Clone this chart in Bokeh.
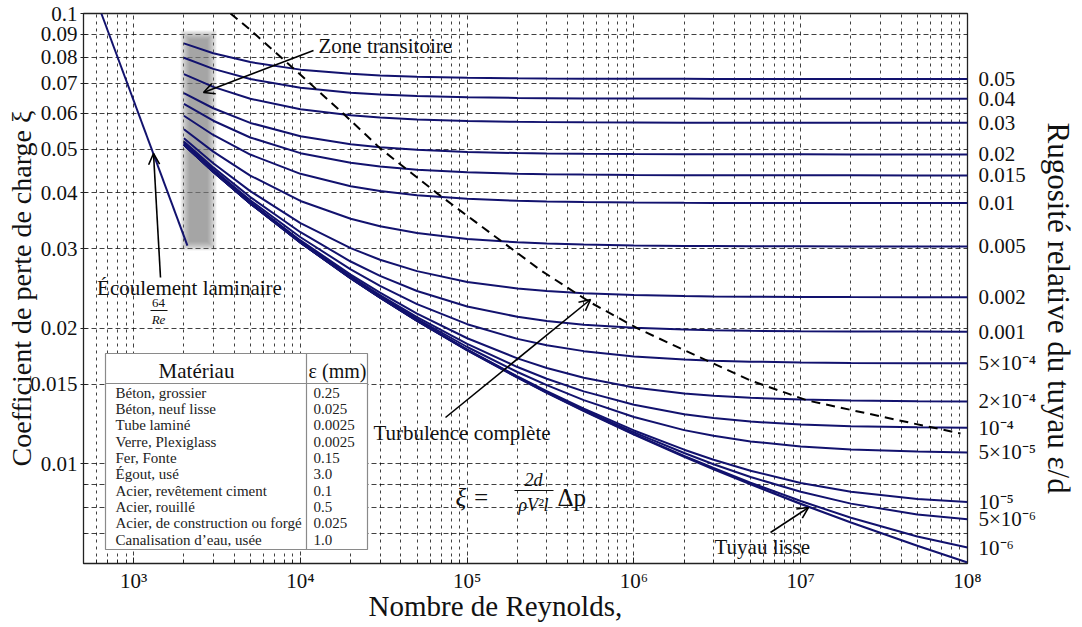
from math import log10, pi
from bokeh.plotting import figure
from bokeh.models import (Range1d, LogAxis, FixedTicker, Label, Arrow, OpenHead,
                          ColumnDataSource, Title)
from bokeh.core.properties import value
from bokeh.embed import file_html
from bokeh.resources import INLINE

# ---------------------------------------------------------------- data
reynolds = [2e3, 3e3, 5e3, 1e4, 2e4, 3e4, 5e4, 1e5, 2e5, 3e5, 5e5,
            1e6, 2e6, 3e6, 5e6, 1e7, 2e7, 5e7, 1e8]

xi_r_0_05 = [0.08584, 0.08161, 0.07799, 0.07504, 0.07344, 0.07286, 0.07238, 0.07200, 0.07179, 0.07172, 0.07166, 0.07161, 0.07158, 0.07157, 0.07156, 0.07156, 0.07155, 0.07155, 0.07155]
xi_r_0_04 = [0.07972, 0.07532, 0.07152, 0.06840, 0.06669, 0.06608, 0.06556, 0.06515, 0.06493, 0.06485, 0.06478, 0.06473, 0.06470, 0.06469, 0.06469, 0.06468, 0.06468, 0.06467, 0.06467]
xi_r_0_03 = [0.07334, 0.06870, 0.06464, 0.06127, 0.05940, 0.05873, 0.05816, 0.05770, 0.05746, 0.05737, 0.05730, 0.05724, 0.05721, 0.05720, 0.05719, 0.05718, 0.05718, 0.05718, 0.05718]
xi_r_0_02 = [0.06658, 0.06159, 0.05714, 0.05336, 0.05123, 0.05045, 0.04979, 0.04926, 0.04897, 0.04887, 0.04878, 0.04872, 0.04868, 0.04867, 0.04866, 0.04865, 0.04864, 0.04864, 0.04864]
xi_r_0_015 = [0.06302, 0.05778, 0.05304, 0.04895, 0.04659, 0.04573, 0.04499, 0.04439, 0.04407, 0.04395, 0.04386, 0.04378, 0.04374, 0.04372, 0.04371, 0.04370, 0.04370, 0.04369, 0.04369]
xi_r_0_01 = [0.05928, 0.05372, 0.04860, 0.04404, 0.04134, 0.04034, 0.03946, 0.03875, 0.03836, 0.03822, 0.03811, 0.03801, 0.03796, 0.03794, 0.03793, 0.03792, 0.03791, 0.03791, 0.03791]
xi_r_0_005 = [0.05533, 0.04934, 0.04364, 0.03833, 0.03499, 0.03369, 0.03253, 0.03156, 0.03102, 0.03082, 0.03066, 0.03052, 0.03045, 0.03043, 0.03040, 0.03039, 0.03038, 0.03037, 0.03037]
xi_r_0_002 = [0.05283, 0.04650, 0.04030, 0.03422, 0.03011, 0.02838, 0.02677, 0.02533, 0.02449, 0.02417, 0.02390, 0.02368, 0.02356, 0.02352, 0.02348, 0.02345, 0.02344, 0.02343, 0.02342]
xi_r_0_001 = [0.05197, 0.04551, 0.03910, 0.03267, 0.02812, 0.02613, 0.02418, 0.02234, 0.02119, 0.02075, 0.02035, 0.02003, 0.01985, 0.01978, 0.01973, 0.01969, 0.01966, 0.01965, 0.01964]
xi_r_5e_4 = [0.05153, 0.04500, 0.03848, 0.03184, 0.02702, 0.02483, 0.02262, 0.02041, 0.01893, 0.01833, 0.01778, 0.01730, 0.01703, 0.01693, 0.01685, 0.01678, 0.01674, 0.01672, 0.01671]
xi_r_2e_4 = [0.05127, 0.04470, 0.03810, 0.03132, 0.02631, 0.02398, 0.02155, 0.01899, 0.01713, 0.01631, 0.01551, 0.01477, 0.01432, 0.01415, 0.01400, 0.01388, 0.01381, 0.01376, 0.01375]
xi_r_1e_4 = [0.05118, 0.04459, 0.03797, 0.03115, 0.02606, 0.02368, 0.02117, 0.01845, 0.01639, 0.01544, 0.01447, 0.01351, 0.01288, 0.01263, 0.01240, 0.01221, 0.01211, 0.01204, 0.01201]
xi_r_5e_5 = [0.05114, 0.04454, 0.03791, 0.03106, 0.02594, 0.02353, 0.02097, 0.01816, 0.01598, 0.01494, 0.01384, 0.01269, 0.01187, 0.01153, 0.01120, 0.01092, 0.01075, 0.01064, 0.01059]
xi_r_1e_5 = [0.05110, 0.04450, 0.03786, 0.03099, 0.02584, 0.02340, 0.02080, 0.01792, 0.01562, 0.01449, 0.01325, 0.01185, 0.01074, 0.01020, 0.00964, 0.00906, 0.00866, 0.00835, 0.00822]
xi_r_5e_6 = [0.05110, 0.04450, 0.03785, 0.03098, 0.02583, 0.02339, 0.02078, 0.01789, 0.01558, 0.01443, 0.01317, 0.01173, 0.01056, 0.00997, 0.00934, 0.00866, 0.00815, 0.00771, 0.00752]
xi_r_1e_6 = [0.05109, 0.04449, 0.03785, 0.03097, 0.02582, 0.02338, 0.02076, 0.01787, 0.01554, 0.01439, 0.01311, 0.01163, 0.01040, 0.00978, 0.00907, 0.00826, 0.00758, 0.00689, 0.00651]
xi_smooth = [0.05109, 0.04449, 0.03785, 0.03097, 0.02581, 0.02337, 0.02076, 0.01786, 0.01553, 0.01437, 0.01309, 0.01161, 0.01036, 0.00972, 0.00900, 0.00814, 0.00740, 0.00657, 0.00603]

rough_curves = [xi_r_0_05, xi_r_0_04, xi_r_0_03, xi_r_0_02, xi_r_0_015, xi_r_0_01,
                xi_r_0_005, xi_r_0_002, xi_r_0_001, xi_r_5e_4, xi_r_2e_4, xi_r_1e_4,
                xi_r_5e_5, xi_r_1e_5, xi_r_5e_6, xi_r_1e_6]
rough_labels = ["0.05", "0.04", "0.03", "0.02", "0.015", "0.01", "0.005", "0.002",
                "0.001", "5×10⁻⁴", "2×10⁻⁴", "10⁻⁴", "5×10⁻⁵", "10⁻⁵", "5×10⁻⁶", "10⁻⁶"]

laminar_re = [640, 2100]
laminar_xi = [0.1, 0.0305]

boundary_re = [3806, 4813, 9085, 18630, 30200, 66340, 109000, 275100, 548800,
               1.05e6, 1.9e6, 5.0e6, 1.098e7, 4.745e7, 9.08e7]
boundary_xi = [0.1, 0.0931, 0.0755, 0.0593, 0.0501, 0.0398, 0.0347, 0.0269, 0.0228,
               0.01997, 0.01803, 0.0153, 0.01381, 0.01228, 0.01167]

materials = ["Béton, grossier", "Béton, neuf lisse", "Tube laminé", "Verre, Plexiglass",
             "Fer, Fonte", "Égout, usé", "Acier, revêtement ciment", "Acier, rouillé",
             "Acier, de construction ou forgé", "Canalisation d’eau, usée"]
roughness_mm = ["0.25", "0.025", "0.0025", "0.0025", "0.15", "3.0", "0.1", "0.5",
                "0.025", "1.0"]

x_major = [1e3, 1e4, 1e5, 1e6, 1e7, 1e8]
x_labels = ["10³", "10⁴", "10⁵", "10⁶", "10⁷", "10⁸"]
y_major = [0.01, 0.015, 0.02, 0.03, 0.04, 0.05, 0.06, 0.07, 0.08, 0.09, 0.1]
y_labels = ["0.01", "0.015", "0.02", "0.03", "0.04", "0.05", "0.06", "0.07", "0.08", "0.09", "0.1"]

# ---------------------------------------------------------------- layout
FONT = "Liberation Serif"
NAVY = "#12126e"
W, H = 1082, 627
BL, BR, BT, BB = 83, 115, 13, 64
X_LO, X_HI = 500, 1e8
Y_LO, Y_HI = 0.006, 0.1


def at(px, py):
    """page pixel -> data coordinates (for annotation placement)"""
    fl, fr = BL, W - BR
    ft, fb = BT, H - BB
    lx = log10(X_LO) + (px - fl) / (fr - fl) * (log10(X_HI) - log10(X_LO))
    ly = log10(Y_HI) - (py - ft) / (fb - ft) * (log10(Y_HI) - log10(Y_LO))
    return 10 ** lx, 10 ** ly


p = figure(width=W, height=H, x_axis_type="log", y_axis_type="log",
           x_range=Range1d(X_LO, X_HI), y_range=Range1d(Y_LO, Y_HI),
           output_backend="svg", toolbar_location=None, title=None,
           min_border_left=BL, min_border_right=BR, min_border_top=BT,
           min_border_bottom=BB)
p.background_fill_color = "white"
p.border_fill_color = "white"
p.outline_line_color = "#222222"
p.outline_line_width = 1.3

x_minor = [m * 10 ** k for k in range(2, 8) for m in range(2, 10) if 500 <= m * 10 ** k < 1e8]
y_minor = [0.006, 0.007, 0.008, 0.009]

xa = p.xaxis[0]
xa.ticker = FixedTicker(ticks=x_major, minor_ticks=x_minor)
xa.major_label_overrides = dict(zip(x_major, x_labels))
ya = p.yaxis[0]
ya.ticker = FixedTicker(ticks=y_major, minor_ticks=y_minor)
ya.major_label_overrides = dict(zip(y_major, y_labels))
for ax in (xa, ya):
    ax.major_label_text_font = FONT
    ax.major_label_text_font_size = "21px"
    ax.major_label_text_color = "#111111"
    ax.axis_line_color = None
    ax.major_tick_line_color = "#222222"
    ax.minor_tick_line_color = "#222222"
xa.major_label_standoff = 5
xa.major_tick_in, xa.major_tick_out = 6, 0
xa.minor_tick_in, xa.minor_tick_out = 4, 0
ya.major_label_standoff = 3
ya.major_tick_in, ya.major_tick_out = 4, 3
ya.minor_tick_in, ya.minor_tick_out = 3, 0
ya.axis_label = "Coefficient de perte de charge ξ"
ya.axis_label_text_font = FONT
ya.axis_label_text_font_size = "28px"
ya.axis_label_text_font_style = "normal"
ya.axis_label_text_color = "#111111"
ya.axis_label_standoff = -10

p.xgrid.ticker = xa.ticker
p.ygrid.ticker = ya.ticker
for g, d1, d2 in ((p.xgrid, "4 4", "3 4"), (p.ygrid, "5 3", "5 3")):
    g.grid_line_color = "black"
    g.grid_line_alpha = 0.75
    g.grid_line_width = 1
    g.grid_line_dash = d1
    g.minor_grid_line_color = "black"
    g.minor_grid_line_alpha = 0.75
    g.minor_grid_line_width = 1
    g.minor_grid_line_dash = d2

ends = [c[-1] for c in rough_curves]
ra = LogAxis(ticker=FixedTicker(ticks=ends, minor_ticks=[]),
             major_label_overrides=dict(zip(ends, rough_labels)),
             axis_line_color=None, major_tick_line_color=None,
             minor_tick_line_color=None, major_label_text_font=FONT,
             major_label_text_font_size="21px", major_label_text_color="#111111",
             major_label_standoff=5)
p.add_layout(ra, "right")

p.add_layout(Title(text="Nombre de Reynolds,", align="left", offset=285, standoff=-12,
                   vertical_align="top", text_font=FONT, text_font_size="29px",
                   text_font_style="normal", text_color="#111111"), "below")
p.add_layout(Title(text="Rugosité relative du tuyau ε/d", align="left", offset=109,
                   standoff=0, vertical_align="middle", text_font=FONT,
                   text_font_size="31px", text_font_style="normal",
                   text_color="#111111"), "right")

# ---------------------------------------------------------------- transition band
for i in range(10):
    e = 9 - i
    l, t = at(189 - e, 39 - e)
    r, b = at(207 + e, 241 + e)
    p.quad(left=l, right=r, top=t, bottom=b, fill_color="#808080", fill_alpha=0.11,
           line_color=None)

# ---------------------------------------------------------------- table
TB = "#8a8a8a"
l, t = at(105, 353)
r, b = at(367, 549)
p.quad(left=l, right=r, top=t, bottom=b, fill_color="white", line_color=TB, line_width=1.2)
_, hy = at(0, 383)
cx, _ = at(306, 0)
p.segment(x0=[l, cx], y0=[hy, t], x1=[r, cx], y1=[hy, b], line_color=TB, line_width=1.2)
n = len(materials)
row_y = [at(0, 392 + i * 16.35)[1] for i in range(n)]
src_m = ColumnDataSource(dict(x=[at(115, 0)[0]] * n, y=row_y, t=materials))
src_v = ColumnDataSource(dict(x=[at(313, 0)[0]] * n, y=row_y, t=roughness_mm))
for s in (src_m, src_v):
    p.text(x="x", y="y", text="t", source=s, text_font=value(FONT),
           text_font_size="15px", text_baseline="middle", text_color="#222222")

# ---------------------------------------------------------------- curves
for c in rough_curves:
    p.line(reynolds, c, line_color=NAVY, line_width=2)
p.line(reynolds, xi_smooth, line_color=NAVY, line_width=2.2)
p.line(laminar_re, laminar_xi, line_color=NAVY, line_width=2)
p.line(boundary_re, boundary_xi, line_color="black", line_width=2, line_dash="9 6")


# ---------------------------------------------------------------- annotations
def label(px, py, text, size="21px", align="left", baseline="middle", angle=0.0,
          style="normal"):
    x, y = at(px, py)
    p.add_layout(Label(x=x, y=y, text=text, text_font=FONT, text_font_size=size,
                       text_align=align, text_baseline=baseline, angle=angle,
                       text_font_style=style, text_color="#111111"))


def arrow(p0, p1):
    x0, y0 = at(*p0)
    x1, y1 = at(*p1)
    p.add_layout(Arrow(end=OpenHead(size=11, line_width=1.6, line_color="black"),
                       x_start=x0, y_start=y0, x_end=x1, y_end=y1,
                       line_width=1.6, line_color="black"))


def bar(p0, p1):
    x0, y0 = at(*p0)
    x1, y1 = at(*p1)
    p.add_layout(Arrow(end=None, start=None, x_start=x0, y_start=y0, x_end=x1,
                       y_end=y1, line_width=1.1, line_color="#111111"))


label(318, 45, "Zone transitoire")
arrow((313, 50), (203, 92))
label(189, 287, "Écoulement laminaire", align="center")
label(158, 302, "64", size="13px", align="center")
bar((150, 310), (167, 310))
label(158, 319, "Re", size="13px", align="center", style="italic")
arrow((160, 277), (153, 153))
label(373, 432, "Turbulence complète")
arrow((445, 417), (590, 299))
label(714, 546, "Tuyau lisse")
arrow((770, 532), (808, 507))

label(455, 497, "ξ =", size="25px", style="italic")
label(533, 479, "2d", size="18px", align="center", style="italic")
bar((514, 490), (553, 490))
label(533, 504, "ρV²l", size="18px", align="center", style="italic")
label(557, 497, "Δp", size="25px")

label(196, 370, "Matériau", size="21px", align="center")
label(337, 370, "ε (mm)", size="20px", align="center")

open("out.html", "w").write(file_html(p, INLINE))
